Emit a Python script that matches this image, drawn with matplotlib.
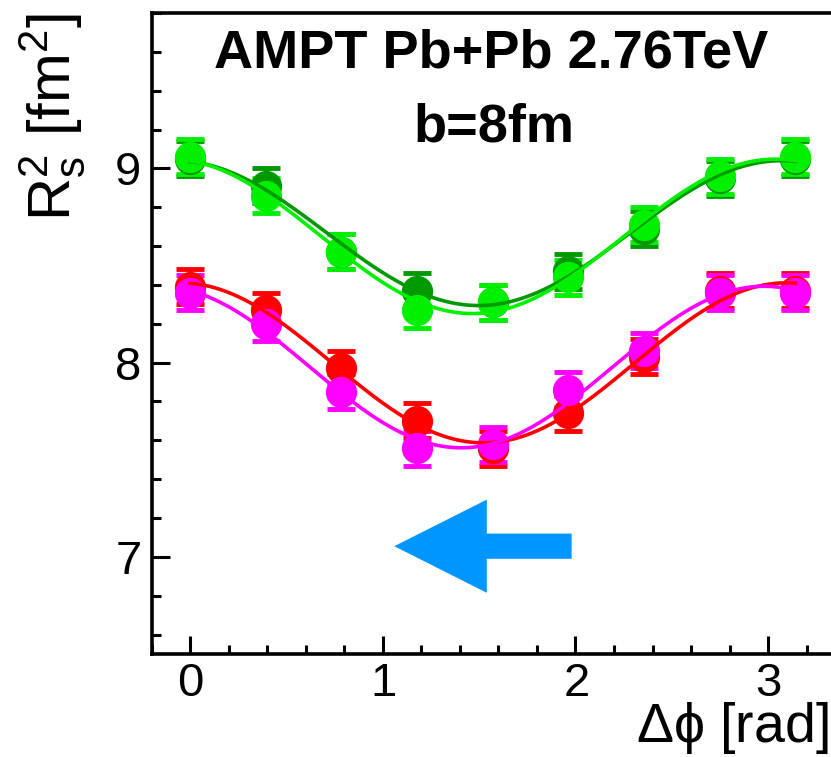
import numpy as np
import matplotlib
matplotlib.use("Agg")
import matplotlib.pyplot as plt
from matplotlib.ticker import MultipleLocator, FixedLocator, FuncFormatter
from matplotlib.patches import FancyArrow

plt.rcParams['font.family'] = ['Liberation Sans', 'DejaVu Sans']
plt.rcParams['mathtext.fontset'] = 'custom'
plt.rcParams['mathtext.rm'] = 'Liberation Sans'
plt.rcParams['mathtext.it'] = 'Liberation Sans'
plt.rcParams['mathtext.default'] = 'regular'

# azimuthal bins: k*pi/8
dphi = np.arange(9) * np.pi / 8

# R_s^2 [fm^2] for the four samples
rs2_darkgreen = [9.05, 8.91, 8.57, 8.37, 8.31, 8.47, 8.69, 8.95, 9.05]
rs2_green     = [9.06, 8.86, 8.57, 8.27, 8.31, 8.44, 8.71, 8.96, 9.06]
rs2_red       = [8.39, 8.27, 7.97, 7.70, 7.56, 7.74, 8.03, 8.37, 8.37]
rs2_magenta   = [8.36, 8.20, 7.85, 7.56, 7.58, 7.86, 8.06, 8.36, 8.36]
rs2_err       = [0.09] * 9

series = [
    (rs2_darkgreen, '#009900'),
    (rs2_green,     '#00f000'),
    (rs2_red,       '#ff0000'),
    (rs2_magenta,   '#ff00ff'),
]


def fit_oscillation(x, y):
    """Least-squares fit of p0 + p1 cos(2x) + p2 sin(2x)."""
    x = np.asarray(x)
    A = np.column_stack([np.ones_like(x), np.cos(2 * x), np.sin(2 * x)])
    p, *_ = np.linalg.lstsq(A, np.asarray(y), rcond=None)
    return p


fig = plt.figure(figsize=(8.31, 7.57), dpi=100)
ax = fig.add_axes([151.5 / 831, 1 - 654 / 757, 682.5 / 831, (654 - 13) / 757])

for vals, col in series:
    ax.errorbar(dphi, vals, yerr=rs2_err, fmt='o', color=col, ms=21.5,
                mec=col, elinewidth=2, capsize=10, capthick=3.5, zorder=3)

xs = np.linspace(0, np.pi, 300)
for vals, col in series:
    p = fit_oscillation(dphi, vals)
    ax.plot(xs, p[0] + p[1] * np.cos(2 * xs) + p[2] * np.sin(2 * xs),
            color=col, lw=2.6, zorder=4)

# direction arrow
ax.add_patch(FancyArrow(1.98, 7.055, -0.92, 0, width=0.13, head_width=0.48,
                        head_length=0.48, length_includes_head=True,
                        color='#0096ff', lw=0, zorder=5))

ax.set_xlim(-0.2, np.pi + 0.2)
ax.set_ylim(6.5, 9.8)

int_fmt = FuncFormatter(lambda v, pos: r'$%d$' % round(v))
ax.xaxis.set_major_locator(FixedLocator([0, 1, 2, 3]))
ax.xaxis.set_minor_locator(MultipleLocator(0.2))
ax.xaxis.set_major_formatter(int_fmt)
ax.yaxis.set_major_locator(FixedLocator([7, 8, 9]))
ax.yaxis.set_minor_locator(MultipleLocator(0.2))
ax.yaxis.set_major_formatter(int_fmt)

ax.tick_params(which='both', direction='in', top=False, right=False,
               width=2.2, labelsize=34)
ax.tick_params(which='major', length=13)
ax.tick_params(which='minor', length=6.5)
ax.tick_params(axis='x', pad=6)
ax.tick_params(axis='y', pad=8)
for sp in ax.spines.values():
    sp.set_linewidth(2.6)

fig.text(491 / 831, 1 - 68 / 757, 'AMPT Pb+Pb 2.76TeV', ha='center',
         va='baseline', fontsize=39, fontweight='bold')
fig.text(494 / 831, 1 - 142 / 757, 'b=8fm', ha='center', va='baseline',
         fontsize=39, fontweight='bold')

fig.text(52 / 831, 1 - 13 / 757, r'$R_{s}^{2}$ [fm$^{2}$]', rotation=90,
         ha='center', va='top', fontsize=43)
fig.text(829 / 831, 1 / 757, r'$\Delta$ϕ [rad]', ha='right',
         va='bottom', fontsize=40)

fig.savefig('out.png', dpi=100)
